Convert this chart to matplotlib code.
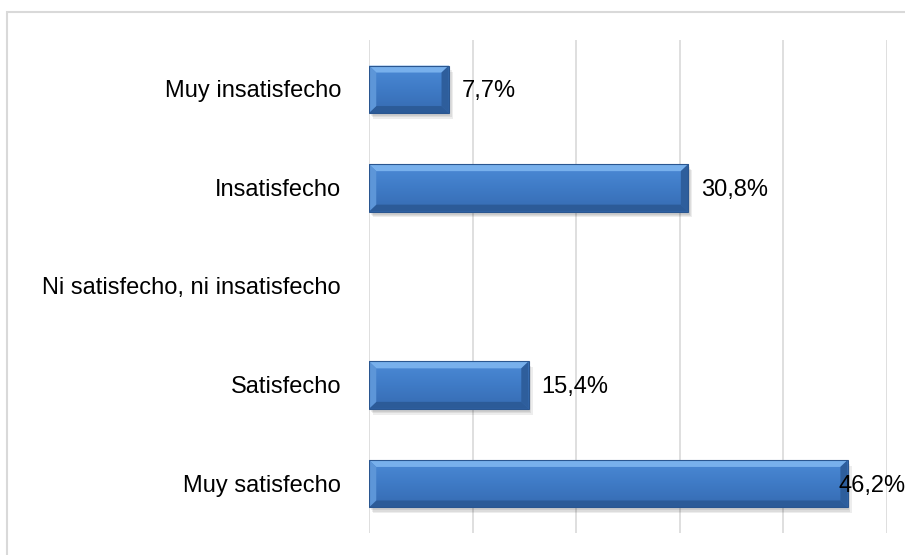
import numpy as np
import matplotlib.pyplot as plt
from matplotlib.patches import Rectangle, Polygon

plt.rcParams['font.family'] = ['Liberation Sans', 'DejaVu Sans']

categorias = ['Muy insatisfecho', 'Insatisfecho', 'Ni satisfecho, ni insatisfecho',
              'Satisfecho', 'Muy satisfecho']
valores = [7.7, 30.8, 0.0, 15.4, 46.2]
etiquetas = ['7,7%', '30,8%', '', '15,4%', '46,2%']

W, H = 905, 555
fig = plt.figure(figsize=(W / 100, H / 100), dpi=100)

# outer chart border (cut by the image edge on the right and bottom)
fig.patches.append(Rectangle((7 / W, -0.1), 1.2, 1.1 - 12 / H, transform=fig.transFigure,
                             fill=False, edgecolor='#d9d9d9', linewidth=1.5))

ax = fig.add_axes([369 / W, 1 - 533 / H, (887 - 369) / W, (533 - 40) / H])
ax.set_xlim(0, 50)
ax.set_ylim(len(categorias) - 0.5, -0.5)
for s in ax.spines.values():
    s.set_visible(False)
ax.set_xticks([])
ax.set_yticks([])
for xg in range(0, 51, 10):
    ax.axvline(xg, color='#d9d9d9', linewidth=1.2, zorder=0)

grad = np.linspace(0, 1, 64).reshape(-1, 1)
cmap_bar = plt.matplotlib.colors.LinearSegmentedColormap.from_list(
    'b', ['#4c8ad6', '#3f7bc6', '#366bb2'])
h = 0.48
bx = 0.7   # bevel width in x (data units)
by = 0.07  # bevel width in y (data units)
for i, (v, lab, cat) in enumerate(zip(valores, etiquetas, categorias)):
    ax.text(-2.7, i + 0.02, cat, ha='right', va='center', fontsize=17, color='#000000')
    if v <= 0:
        continue
    y0, y1 = i - h / 2, i + h / 2
    # soft shadow
    for k in range(3):
        ax.add_patch(Rectangle((0.15 + 0.12 * k, y0 + 0.03 + 0.015 * k), v, h, facecolor='#000000',
                               alpha=0.07, edgecolor='none', zorder=2))
    body = Rectangle((0, y0), v, h, facecolor='none', edgecolor='none', zorder=3)
    ax.add_patch(body)
    im = ax.imshow(grad, cmap=cmap_bar, extent=(0, v, y1, y0), aspect='auto', zorder=3)
    im.set_clip_path(body)
    # bevel: top light, bottom dark, left light, right dark
    ax.add_patch(Polygon([(0, y0), (v, y0), (v - bx, y0 + by), (bx, y0 + by)],
                         facecolor='#78b0ec', edgecolor='none', zorder=4))
    ax.add_patch(Polygon([(0, y1), (v, y1), (v - bx, y1 - by), (bx, y1 - by)],
                         facecolor='#2c5b98', edgecolor='none', zorder=4))
    ax.add_patch(Polygon([(0, y0), (0, y1), (bx, y1 - by), (bx, y0 + by)],
                         facecolor='#5d96d8', edgecolor='none', zorder=4))
    ax.add_patch(Polygon([(v, y0), (v, y1), (v - bx, y1 - by), (v - bx, y0 + by)],
                         facecolor='#2e5e9c', edgecolor='none', zorder=4))
    ax.add_patch(Rectangle((0, y0), v, h, facecolor='none', edgecolor='#2a5690',
                           linewidth=0.8, zorder=5))
    if v > 45:
        ax.text(v - 0.9, i + 0.02, lab, ha='left', va='center', fontsize=17, color='#000000',
                zorder=6, clip_on=False)
    else:
        ax.text(v + 1.25, i + 0.02, lab, ha='left', va='center', fontsize=17, color='#000000',
                zorder=6)

fig.savefig('out.png', dpi=100, facecolor='white')
